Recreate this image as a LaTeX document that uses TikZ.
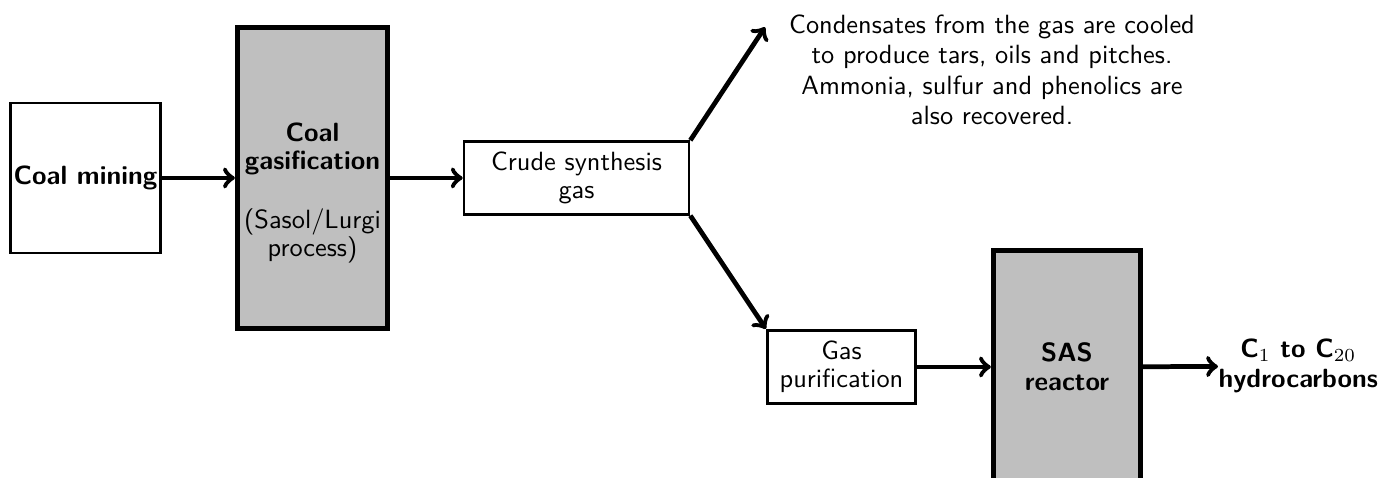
\documentclass[tikz,border=0pt]{standalone}
\renewcommand{\familydefault}{\sfdefault}
\begin{document}
\begin{tikzpicture}[
    box/.style={draw, line width=1pt, align=center},
    bigbox/.style={draw, line width=2pt, fill=lightgray},
    flow/.style={->, line width=1.8pt},
    lines/.style={font=\fontsize{10}{10.5}\selectfont},
  ]
  \useasboundingbox (0,0) rectangle (18.387,6.373);
  \node[box, minimum width=2.0cm, minimum height=2.0cm, inner sep=1pt, font=\bfseries] (mining) at (1.14,4.0) {Coal mining};
  \node[bigbox, minimum width=2.0cm, minimum height=4.02cm] (gasif) at (4.167,4.0) {};
  \node[align=center, lines] (gasiftext) at (4.167,3.8) {\textbf{Coal}\\\textbf{gasification}\\[12pt](Sasol/Lurgi\\process)};
  \node[box, lines, minimum width=3.0cm, minimum height=0.97cm] (crude) at (7.687,4.0) {Crude synthesis\\gas};
  \node[box, lines, minimum width=1.98cm, minimum height=0.98cm] (purif) at (11.22,1.48) {Gas\\purification};
  \node[bigbox, minimum width=1.96cm, minimum height=3.1cm, align=center, font=\fontsize{10}{11}\selectfont\bfseries] (sas) at (14.227,1.48) {SAS\\reactor};
  \node[align=center, anchor=west, inner sep=0pt, font=\fontsize{10}{11.5}\selectfont\bfseries] (product) at (16.24,1.49) {C$_1$ to C$_{20}$\\hydrocarbons};
  \node[align=center, font=\fontsize{10}{11.5}\selectfont] (cond) at (13.227,5.44) {Condensates from the gas are cooled\\to produce tars, oils and pitches.\\Ammonia, sulfur and phenolics are\\also recovered.};
  \coordinate (condtip) at (10.2,6.01);

  \draw[flow] (mining) -- (gasif);
  \draw[flow] (gasif) -- (crude);
  \draw[flow] (crude.north east) -- (condtip);
  \draw[flow] (crude.south east) -- (purif.north west);
  \draw[flow] (purif) -- (sas);
  \draw[flow] (sas) -- (product);
\end{tikzpicture}
\end{document}
